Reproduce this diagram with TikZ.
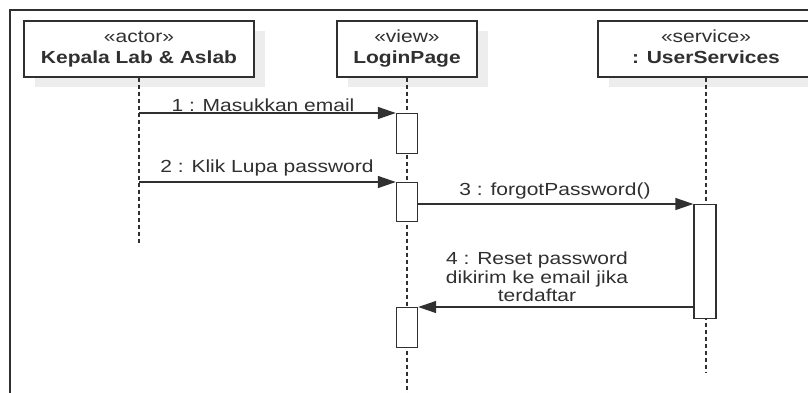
\documentclass[tikz,border=0pt]{standalone}
\usepackage{fontspec}
\setmainfont{Liberation Sans}[FakeStretch=1.2]
\usetikzlibrary{arrows.meta}
\definecolor{ink}{HTML}{303030}
\definecolor{shade}{HTML}{EDEDED}
\begin{document}
\begin{tikzpicture}[x=1pt,y=-1pt,
  txt/.style={font=\fontsize{17.5}{18.5}\selectfont, text=ink, inner sep=0pt},
  head/.style={draw=ink, line width=1.4pt, fill=white, minimum height=56pt, inner sep=0pt},
  shadowbox/.style={fill=shade, draw=none, minimum height=56pt, inner sep=0pt},
  lifeline/.style={draw=ink, line width=1.3pt, dash pattern=on 4pt off 3pt},
  bar/.style={draw=ink, line width=1.4pt, fill=white, minimum width=21pt, inner sep=0pt},
  msg/.style={draw=ink, line width=1.4pt, -{Triangle[length=18pt,width=12pt]}}]
\useasboundingbox (0,0) rectangle (808,392);
\clip (0,0) rectangle (808,392);
\fill[white] (0,0) rectangle (808,392);

% diagram frame (continues past the right and lower edges)
\draw[draw=ink, line width=2pt] (10,10) rectangle (840,420);

% head shadows
\node[shadowbox, minimum width=230pt] (actorsh) at (150,59) {};
\node[shadowbox, minimum width=140pt] (loginsh) at (418,59) {};
\node[shadowbox, minimum width=216pt] (svcsh) at (717,59) {};

% lifeline heads
\node[head, minimum width=230pt] (actor) at (139,49) {};
\node[head, minimum width=140pt] (login) at (407,49) {};
\node[head, minimum width=216pt] (svc) at (706,49) {};

\node[txt, anchor=base] (actorst) at (139,42.7) {«actor»};
\node[txt, anchor=base] (actorname) at (139,63.3) {\bfseries Kepala Lab \& Aslab};
\node[txt, anchor=base] (loginst) at (407,42.7) {«view»};
\node[txt, anchor=base] (loginname) at (407,63.3) {\bfseries LoginPage};
\node[txt, anchor=base] (svcst) at (706,42.7) {«service»};
\node[txt, anchor=base] (svcname) at (706,63.3) {\bfseries : UserServices};

% lifelines
\coordinate (actorEnd) at (139,245);
\coordinate (loginEnd) at (407,400);
\coordinate (svcEnd) at (706,373);
\draw[lifeline] (actor.south) -- (actorEnd);
\draw[lifeline] (login.south) -- (loginEnd);
\draw[lifeline] (svc.south) -- (svcEnd);

% activation bars
\node[bar, minimum height=40pt, anchor=north] (b1) at (407,113) {};
\node[bar, minimum height=39pt, anchor=north] (b2) at (407,182) {};
\node[bar, minimum height=114pt, minimum width=22pt, anchor=north] (b4) at (705,204) {};
\node[bar, minimum height=40pt, anchor=north] (b3) at (407,307) {};

% messages
\coordinate (m1) at (139,113);
\coordinate (m2) at (139,182);
\draw[msg] (m1) -- (b1.north west);
\draw[msg] (m2) -- (b2.north west);
\draw[msg] (b2.east |- b4.north) -- (b4.north west);
\draw[msg] (b4.west |- b3.north) -- (b3.north east);

\node[txt, anchor=base] (l1) at (263,111) {1 : Masukkan email};
\node[txt, anchor=base] (l2) at (267,172) {2 : Klik Lupa password};
\node[txt, anchor=base] (l3) at (555,195) {3 : forgotPassword()};
\node[txt, anchor=south, align=center] (l4) at (537,302) {4 : Reset password\\dikirim ke email jika\\terdaftar};
\end{tikzpicture}
\end{document}
